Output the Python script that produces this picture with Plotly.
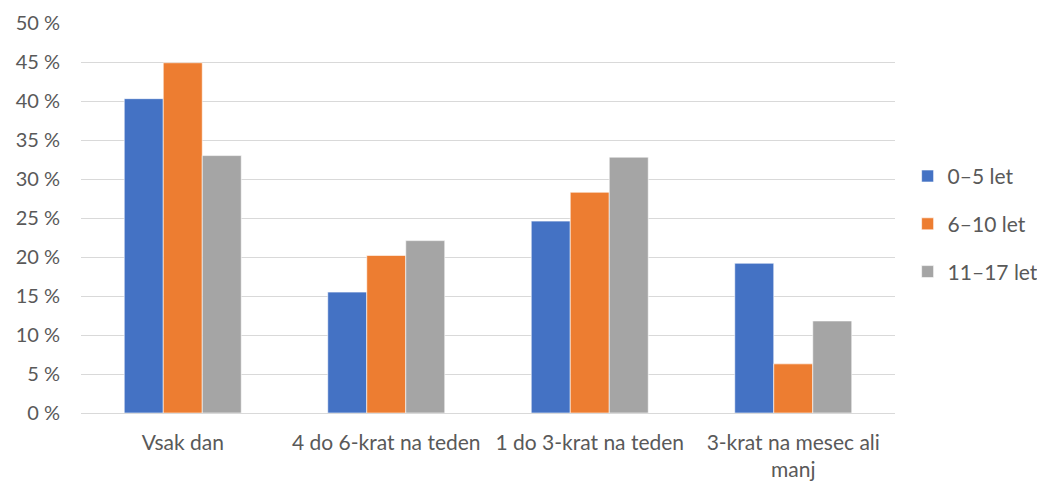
import plotly.graph_objects as go

categories = ["Vsak dan", "4 do 6-krat na teden", "1 do 3-krat na teden", "3-krat na mesec ali<br>manj"]
series_names = ["0–5 let", "6–10 let", "11–17 let"]
vals_0_5 = [40.3, 15.5, 24.6, 19.2]
vals_6_10 = [44.9, 20.2, 28.3, 6.3]
vals_11_17 = [33.0, 22.1, 32.8, 11.8]
colors = ["#4472C4", "#ED7D31", "#A5A5A5"]
y_ticks = [0, 5, 10, 15, 20, 25, 30, 35, 40, 45, 50]

fig = go.Figure()
for name, vals, col in zip(series_names, [vals_0_5, vals_6_10, vals_11_17], colors):
    fig.add_trace(go.Bar(x=categories, y=vals, name=name, legendgroup=name,
                         marker=dict(color=col, line=dict(color="white", width=0.6))))

font_family = "Lato, 'Open Sans', sans-serif"
fig.update_layout(
    width=1045, height=483,
    margin=dict(l=73, r=158, t=15, b=78, autoexpand=False),
    paper_bgcolor="white", plot_bgcolor="white",
    barmode="group", bargap=0.425, bargroupgap=0,
    font=dict(family=font_family, size=20, color="#595959"),
    showlegend=True,
    legend=dict(x=1.0155, y=0.485, xanchor="left", yanchor="middle",
                font=dict(size=21, color="#595959"), tracegroupgap=17.5,
                traceorder="grouped", itemwidth=30),
    xaxis=dict(showgrid=False, showline=False, ticks="", ticklabelstandoff=15,
               tickfont=dict(size=21, color="#595959")),
    yaxis=dict(range=[0, 50], tickvals=y_ticks, ticktext=[f"{v} %" for v in y_ticks],
               showgrid=True, gridcolor="#D9D9D9", gridwidth=1,
               zeroline=True, zerolinecolor="#D9D9D9", zerolinewidth=1,
               showline=False, ticks="", ticklabelstandoff=20,
               tickfont=dict(size=20, color="#595959")),
)
fig.write_html("out.html")
